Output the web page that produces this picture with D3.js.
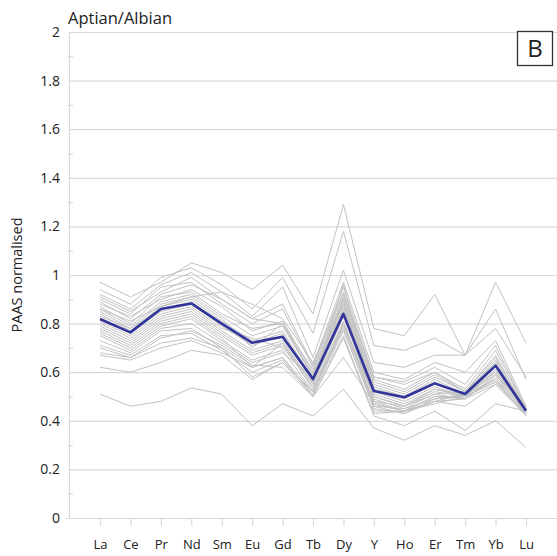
<!DOCTYPE html>
<html>
<head>
<meta charset="utf-8">
<script src="https://cdn.jsdelivr.net/npm/d3@7"></script>
<style>
  html, body { margin: 0; padding: 0; background: #ffffff; }
  svg { display: block; font-family: "Open Sans", "Noto Sans", sans-serif; }
</style>
</head>
<body>
<svg id="chart" width="557" height="556"></svg>
<script>
// REE elements along the x axis
const elements = ["La", "Ce", "Pr", "Nd", "Sm", "Eu", "Gd", "Tb", "Dy", "Y", "Ho", "Er", "Tm", "Yb", "Lu"];

// Y axis ticks
const majorTicks = [0, 0.2, 0.4, 0.6, 0.8, 1, 1.2, 1.4, 1.6, 1.8, 2];
const minorTicks = [0.1, 0.3, 0.5, 0.7, 0.9, 1.1, 1.3, 1.5, 1.7, 1.9];

// Individual samples, PAAS normalised
const samples = [
  [0.97, 0.91, 0.97, 1.05, 1.01, 0.94, 1.04, 0.84, 1.29, 0.78, 0.75, 0.92, 0.67, 0.97, 0.72],
  [0.94, 0.88, 0.99, 1.03, 0.96, 0.86, 0.99, 0.76, 1.18, 0.71, 0.69, 0.74, 0.67, 0.86, 0.57],
  [0.92, 0.86, 0.96, 1.01, 0.93, 0.83, 0.95, 0.66, 1.02, 0.64, 0.62, 0.67, 0.67, 0.78, 0.58],
  [0.91, 0.85, 0.93, 0.99, 0.90, 0.82, 0.88, 0.63, 0.97, 0.60, 0.57, 0.64, 0.60, 0.73, 0.46],
  [0.90, 0.84, 0.95, 0.97, 0.88, 0.80, 0.86, 0.62, 0.95, 0.58, 0.56, 0.62, 0.55, 0.71, 0.45],
  [0.89, 0.82, 0.92, 0.96, 0.90, 0.82, 0.80, 0.61, 0.93, 0.57, 0.53, 0.60, 0.53, 0.69, 0.45],
  [0.88, 0.83, 0.90, 0.94, 0.87, 0.77, 0.81, 0.60, 0.91, 0.56, 0.52, 0.59, 0.52, 0.67, 0.44],
  [0.87, 0.80, 0.91, 0.93, 0.84, 0.78, 0.80, 0.59, 0.90, 0.55, 0.51, 0.58, 0.52, 0.66, 0.45],
  [0.86, 0.79, 0.89, 0.92, 0.83, 0.75, 0.79, 0.58, 0.89, 0.54, 0.50, 0.57, 0.51, 0.65, 0.44],
  [0.85, 0.78, 0.88, 0.91, 0.82, 0.70, 0.80, 0.58, 0.88, 0.53, 0.50, 0.56, 0.51, 0.64, 0.44],
  [0.84, 0.77, 0.87, 0.90, 0.81, 0.73, 0.77, 0.57, 0.87, 0.52, 0.49, 0.55, 0.51, 0.63, 0.44],
  [0.83, 0.78, 0.86, 0.89, 0.80, 0.72, 0.76, 0.57, 0.86, 0.52, 0.48, 0.54, 0.50, 0.62, 0.43],
  [0.82, 0.76, 0.85, 0.88, 0.79, 0.71, 0.75, 0.56, 0.85, 0.51, 0.47, 0.53, 0.50, 0.61, 0.43],
  [0.81, 0.75, 0.84, 0.87, 0.78, 0.74, 0.70, 0.56, 0.84, 0.50, 0.46, 0.52, 0.50, 0.60, 0.44],
  [0.80, 0.74, 0.83, 0.86, 0.77, 0.69, 0.73, 0.55, 0.83, 0.49, 0.45, 0.51, 0.49, 0.59, 0.43],
  [0.79, 0.73, 0.82, 0.85, 0.76, 0.68, 0.72, 0.55, 0.96, 0.48, 0.44, 0.50, 0.49, 0.58, 0.43],
  [0.78, 0.72, 0.81, 0.84, 0.75, 0.67, 0.71, 0.54, 0.81, 0.47, 0.44, 0.50, 0.50, 0.57, 0.42],
  [0.77, 0.71, 0.80, 0.83, 0.74, 0.62, 0.72, 0.53, 0.80, 0.46, 0.43, 0.49, 0.50, 0.56, 0.43],
  [0.76, 0.70, 0.79, 0.82, 0.73, 0.65, 0.69, 0.52, 0.78, 0.45, 0.43, 0.48, 0.49, 0.55, 0.42],
  [0.75, 0.69, 0.78, 0.80, 0.72, 0.64, 0.68, 0.58, 0.90, 0.44, 0.44, 0.47, 0.50, 0.56, 0.43],
  [0.73, 0.68, 0.77, 0.78, 0.70, 0.62, 0.66, 0.50, 0.75, 0.43, 0.44, 0.48, 0.51, 0.57, 0.44],
  [0.71, 0.67, 0.75, 0.76, 0.69, 0.60, 0.65, 0.51, 0.77, 0.46, 0.45, 0.49, 0.51, 0.59, 0.45],
  [0.68, 0.66, 0.72, 0.74, 0.70, 0.58, 0.64, 0.52, 0.79, 0.48, 0.46, 0.51, 0.52, 0.60, 0.44],
  [0.86, 0.81, 0.87, 0.91, 0.93, 0.88, 0.82, 0.64, 0.92, 0.58, 0.55, 0.60, 0.52, 0.64, 0.44],
  [0.67, 0.65, 0.70, 0.73, 0.68, 0.62, 0.66, 0.52, 0.80, 0.50, 0.46, 0.53, 0.51, 0.63, 0.45],
  [0.62, 0.60, 0.64, 0.69, 0.67, 0.57, 0.64, 0.50, 0.66, 0.47, 0.44, 0.48, 0.46, 0.55, 0.43],
  [0.51, 0.46, 0.48, 0.535, 0.51, 0.38, 0.47, 0.42, 0.53, 0.37, 0.32, 0.38, 0.34, 0.40, 0.29],
  [0.70, 0.66, 0.74, 0.77, 0.71, 0.63, 0.62, 0.50, 0.74, 0.42, 0.38, 0.44, 0.36, 0.47, 0.44]
];

// Average composition
const average = [0.819, 0.764, 0.86, 0.883, 0.80, 0.721, 0.746, 0.572, 0.84, 0.523, 0.497, 0.554, 0.51, 0.627, 0.441];

const svg = d3.select("#chart");
const plotLeft = 69, plotTop = 32, plotBottom = 518, plotRight = 557;

const x = d3.scalePoint().domain(elements).range([100, 526]);
const y = d3.scaleLinear().domain([0, 2]).range([plotBottom, plotTop]);

const gridColor = "#d9d9d9";

// Horizontal gridlines
svg.append("g")
  .attr("transform", `translate(${plotLeft},0)`)
  .call(d3.axisRight(y).tickValues(majorTicks.filter(d => d > 0)).tickSize(plotRight - plotLeft).tickFormat(""))
  .call(g => g.select(".domain").remove())
  .call(g => g.selectAll("line").attr("stroke", gridColor).attr("stroke-width", 1.2));

// Minor tick marks along the y axis
svg.append("g")
  .attr("transform", `translate(${plotLeft - 1},0)`)
  .call(d3.axisRight(y).tickValues(minorTicks).tickSize(5).tickFormat(""))
  .call(g => g.select(".domain").remove())
  .call(g => g.selectAll("line").attr("stroke", gridColor).attr("stroke-width", 1.2));

// Y axis with labels
svg.append("g")
  .attr("transform", `translate(${plotLeft},0)`)
  .call(d3.axisLeft(y).tickValues(majorTicks).tickSize(0).tickPadding(9).tickFormat(d => String(d)))
  .call(g => g.select(".domain").attr("stroke", gridColor).attr("stroke-width", 1.2))
  .call(g => g.selectAll("text").attr("fill", "#222").style("font-size", "14px")
    .style("font-family", "'Open Sans', sans-serif"));

// X axis with element labels
svg.append("g")
  .attr("transform", `translate(0,${plotBottom})`)
  .call(d3.axisBottom(x).tickSize(8).tickPadding(14))
  .call(g => g.select(".domain").attr("d", `M${plotLeft - 3},0.5H${plotRight}`).attr("stroke", gridColor).attr("stroke-width", 1.2))
  .call(g => g.selectAll("line").attr("stroke", gridColor).attr("stroke-width", 1.2))
  .call(g => g.selectAll("text").attr("fill", "#222").style("font-size", "13px")
    .style("font-family", "'Open Sans', sans-serif"));

const line = d3.line()
  .x((d, i) => x(elements[i]))
  .y(d => y(d));

// Sample lines
svg.append("g")
  .selectAll("path")
  .data(samples)
  .join("path")
  .attr("d", line)
  .attr("fill", "none")
  .attr("stroke", "#c2c2c2")
  .attr("stroke-width", 1);

// Average line
svg.append("path")
  .datum(average)
  .attr("d", line)
  .attr("fill", "none")
  .attr("stroke", "#31359a")
  .attr("stroke-width", 2.6)
  .attr("stroke-linejoin", "round");

// Title
svg.append("text")
  .attr("x", 68).attr("y", 24)
  .attr("fill", "#222")
  .style("font-size", "16.5px")
  .text("Aptian/Albian");

// Y axis title
svg.append("text")
  .attr("transform", `translate(22,${(plotTop + plotBottom) / 2}) rotate(-90)`)
  .attr("text-anchor", "middle")
  .attr("fill", "#222")
  .style("font-size", "14.5px")
  .text("PAAS normalised");

// Panel letter
svg.append("rect")
  .attr("x", 517.5).attr("y", 31.5).attr("width", 35).attr("height", 34)
  .attr("fill", "#fff").attr("stroke", "#333").attr("stroke-width", 1.3);
svg.append("text")
  .attr("x", 535).attr("y", 57)
  .attr("text-anchor", "middle")
  .attr("fill", "#222")
  .style("font-size", "24px")
  .text("B");
</script>
</body>
</html>
